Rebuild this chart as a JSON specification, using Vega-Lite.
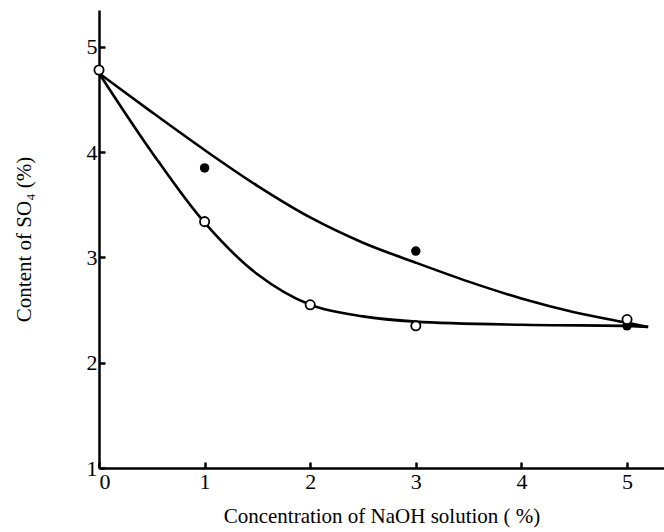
{
  "$schema": "https://vega.github.io/schema/vega-lite/v6.json",
  "autosize": "none",
  "width": 565,
  "height": 458,
  "padding": {"left": 99, "top": 10, "right": 0, "bottom": 64},
  "background": "white",
  "config": {
    "view": {"stroke": null},
    "font": "Liberation Serif",
    "axis": {
      "domainColor": "black",
      "domainWidth": 2.5,
      "tickColor": "black",
      "tickWidth": 2.5,
      "tickSize": -6,
      "grid": false,
      "labelFont": "Liberation Serif",
      "labelFontSize": 22,
      "labelColor": "black",
      "titleFont": "Liberation Serif",
      "titleFontSize": 21,
      "titleFontWeight": "normal",
      "titleColor": "black"
    }
  },
  "datasets": {
    "curves": [
      {"series": "upper", "x": 0, "y": 4.75},
      {"series": "upper", "x": 0.5, "y": 4.38},
      {"series": "upper", "x": 1, "y": 4.02},
      {"series": "upper", "x": 1.5, "y": 3.68},
      {"series": "upper", "x": 2, "y": 3.38},
      {"series": "upper", "x": 2.5, "y": 3.14},
      {"series": "upper", "x": 3, "y": 2.95},
      {"series": "upper", "x": 3.5, "y": 2.77},
      {"series": "upper", "x": 4, "y": 2.61},
      {"series": "upper", "x": 4.5, "y": 2.48},
      {"series": "upper", "x": 5, "y": 2.38},
      {"series": "upper", "x": 5.2, "y": 2.34},
      {"series": "lower", "x": 0, "y": 4.75},
      {"series": "lower", "x": 0.5, "y": 4.0},
      {"series": "lower", "x": 1, "y": 3.33},
      {"series": "lower", "x": 1.5, "y": 2.84},
      {"series": "lower", "x": 2, "y": 2.55},
      {"series": "lower", "x": 2.5, "y": 2.44},
      {"series": "lower", "x": 3, "y": 2.39},
      {"series": "lower", "x": 4, "y": 2.36},
      {"series": "lower", "x": 5, "y": 2.35},
      {"series": "lower", "x": 5.2, "y": 2.34}
    ],
    "points": [
      {"kind": "filled", "x": 1, "y": 3.85},
      {"kind": "filled", "x": 3, "y": 3.06},
      {"kind": "filled", "x": 5, "y": 2.35},
      {"kind": "open", "x": 0, "y": 4.78},
      {"kind": "open", "x": 1, "y": 3.34},
      {"kind": "open", "x": 2, "y": 2.55},
      {"kind": "open", "x": 3, "y": 2.35},
      {"kind": "open", "x": 5, "y": 2.41}
    ]
  },
  "layer": [
    {
      "data": {"name": "curves"},
      "mark": {"type": "line", "interpolate": "catmull-rom", "color": "black", "strokeWidth": 2.6},
      "encoding": {
        "x": {
          "field": "x", "type": "quantitative",
          "scale": {"domain": [0, 5.35], "nice": false, "zero": false},
          "axis": {"values": [0, 1, 2, 3, 4, 5], "format": "d", "title": "Concentration of NaOH solution ( %)", "labelPadding": 9, "titlePadding": 13}
        },
        "y": {
          "field": "y", "type": "quantitative",
          "scale": {"domain": [1, 5.35], "nice": false, "zero": false},
          "axis": {"values": [1, 2, 3, 4, 5], "format": "d", "title": "Content of SO₄ (%)", "labelPadding": 8, "titlePadding": 52}
        },
        "detail": {"field": "series"}
      }
    },
    {
      "data": {"name": "points"},
      "transform": [{"filter": "datum.kind === 'filled'"}],
      "mark": {"type": "point", "filled": true, "color": "black", "size": 90, "opacity": 1},
      "encoding": {
        "x": {"field": "x", "type": "quantitative"},
        "y": {"field": "y", "type": "quantitative"}
      }
    },
    {
      "data": {"name": "points"},
      "transform": [{"filter": "datum.kind === 'open'"}],
      "mark": {"type": "point", "filled": true, "fill": "white", "stroke": "black", "strokeWidth": 1.8, "size": 85, "opacity": 1},
      "encoding": {
        "x": {"field": "x", "type": "quantitative"},
        "y": {"field": "y", "type": "quantitative"}
      }
    }
  ]
}
